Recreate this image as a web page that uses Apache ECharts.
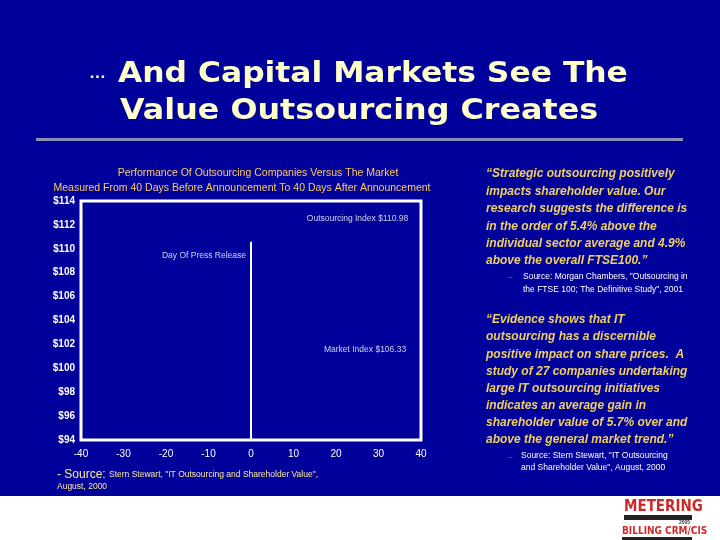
<!DOCTYPE html>
<html><head><meta charset="utf-8">
<script src="https://cdn.jsdelivr.net/npm/echarts@6/dist/echarts.min.js"></script>
<style>html,body{margin:0;padding:0;background:#00009a}#c{width:720px;height:540px}</style>
</head><body><div id="c"></div>
<script>
// ---- data ----
const xTicks = [-40, -30, -20, -10, 0, 10, 20, 30, 40];
const yTicks = [94, 96, 98, 100, 102, 104, 106, 108, 110, 112, 114];
const pressReleaseDay = 0;
const annotationLabels = ['Outsourcing Index $110.98', 'Market Index $106.33'];
const annotationDays = [37, 36.5];
const annotationValues = [112.5, 101.6];
const pressLabel = 'Day Of Press Release';
const pressLineTop = 110.6;
const pressLabelValue = 109.4;

const chartTitle = 'Performance Of Outsourcing Companies Versus The Market';
const chartSubtitle = 'Measured From 40 Days Before Announcement To 40 Days After Announcement';
const slideTitle1 = 'And Capital Markets See The';
const slideTitle2 = 'Value Outsourcing Creates';
const quote1 = ['\u201cStrategic outsourcing positively','impacts shareholder value. Our','research suggests the difference is','in the order of 5.4% above the','individual sector average and 4.9%','above the overall FTSE100.\u201d'];
const source1 = ['Source: Morgan Chambers, "Outsourcing in','the FTSE 100; The Definitive Study", 2001'];
const quote2 = ['\u201cEvidence shows that IT','outsourcing has a discernible','positive impact on share prices.  A','study of 27 companies undertaking','large IT outsourcing initiatives','indicates an average gain in','shareholder value of 5.7% over and','above the general market trend.\u201d'];
const source2 = ['Source: Stern Stewart, "IT Outsourcing','and Shareholder Value", August, 2000'];

const chart = echarts.init(document.getElementById('c'), null, {renderer:'canvas'});
const BG = '#00009a', CREAM = '#ffffcc', GOLD = '#f0d060', ORANGE = '#ffcc66';

const graphics = [];
// white strip at bottom
graphics.push({type:'rect', shape:{x:0,y:496,width:720,height:44}, style:{fill:'#ffffff'}, z:0});
// title
graphics.push({type:'text', style:{x:89, y:73, text:'\u2026', fill:CREAM, font:'bold 17px "Liberation Sans", Arial', textVerticalAlign:'middle'}});
graphics.push({type:'text', x:118, y:75, scaleX:1.12, style:{x:0, y:0, text:slideTitle1, fill:CREAM, font:'bold 28px "DejaVu Sans"', textVerticalAlign:'middle'}});
graphics.push({type:'text', x:120, y:112, scaleX:1.135, style:{x:0, y:0, text:slideTitle2, fill:CREAM, font:'bold 28px "DejaVu Sans"', textVerticalAlign:'middle'}});
graphics.push({type:'rect', shape:{x:36,y:138,width:647,height:3}, style:{fill:'#8c8cb8'}});
// chart titles
graphics.push({type:'text', style:{x:258, y:173, text:chartTitle, fill:ORANGE, font:'10.5px "Liberation Sans", Arial', textAlign:'center', textVerticalAlign:'middle'}});
graphics.push({type:'text', style:{x:242, y:188, text:chartSubtitle, fill:ORANGE, font:'10.5px "Liberation Sans", Arial', textAlign:'center', textVerticalAlign:'middle'}});
// chart source
graphics.push({type:'text', style:{x:57, y:475, rich:{a:{fontSize:12, fill:'#ffe8a0', fontFamily:'Liberation Sans'}, b:{fontSize:8.5, fill:'#ffe8a0', fontFamily:'Liberation Sans'}}, text:'{a|- Source: }{b|Stern Stewart, "IT Outsourcing and Shareholder Value",}', textVerticalAlign:'middle'}});
graphics.push({type:'text', style:{x:57, y:487, text:'August, 2000', fill:'#ffe8a0', font:'8.5px "Liberation Sans"', textVerticalAlign:'middle'}});
// quotes
quote1.forEach((t,i)=>graphics.push({type:'text', style:{x:486, y:174+i*17.4, text:t, fill:GOLD, font:'italic bold 12px "Liberation Sans", Arial', textVerticalAlign:'middle'}}));
graphics.push({type:'text', style:{x:508, y:277, text:'\u2013', fill:'#8080d0', font:'8px "Liberation Sans"', textVerticalAlign:'middle'}});
source1.forEach((t,i)=>graphics.push({type:'text', style:{x:523, y:277+i*13, text:t, fill:'#ffffff', font:'8.5px "Liberation Sans"', textVerticalAlign:'middle'}}));
quote2.forEach((t,i)=>graphics.push({type:'text', style:{x:486, y:320+i*17.15, text:t, fill:GOLD, font:'italic bold 12px "Liberation Sans", Arial', textVerticalAlign:'middle'}}));
graphics.push({type:'text', style:{x:508, y:457, text:'\u2013', fill:'#8080d0', font:'8px "Liberation Sans"', textVerticalAlign:'middle'}});
source2.forEach((t,i)=>graphics.push({type:'text', style:{x:521, y:456+i*12, text:t, fill:'#ffffff', font:'8.5px "Liberation Sans"', textVerticalAlign:'middle'}}));
// logo
graphics.push({type:'text', style:{x:624, y:507, text:'METERING', fill:'#cc2a2a', font:'bold 15px "DejaVu Sans Condensed"', textVerticalAlign:'middle'}});
graphics.push({type:'rect', shape:{x:624,y:515,width:68,height:5}, style:{fill:'#222222'}});
graphics.push({type:'text', style:{x:690, y:523, text:'2005', fill:'#333333', font:'bold 5px "Liberation Sans"', textAlign:'right', textVerticalAlign:'middle'}});
graphics.push({type:'text', style:{x:622, y:531, text:'BILLING CRM/CIS', fill:'#cc2a2a', font:'bold 10px "DejaVu Sans Condensed"', textVerticalAlign:'middle'}});
graphics.push({type:'rect', shape:{x:622,y:537,width:70,height:3}, style:{fill:'#222222'}});

chart.setOption({
  backgroundColor: BG,
  animation: false,
  textStyle: {fontFamily: '"Liberation Sans", Arial'},
  grid: {left: 81, right: 299, top: 201, bottom: 100, show: true, borderColor: '#ffffff', borderWidth: 3, backgroundColor: BG, containLabel: false},
  xAxis: {type:'value', min: xTicks[0], max: xTicks[xTicks.length-1], interval: 10,
    axisLine:{show:false}, axisTick:{show:false}, splitLine:{show:false},
    axisLabel:{color:'#ffffff', fontSize:10, margin:9}},
  yAxis: {type:'value', min: yTicks[0], max: yTicks[yTicks.length-1], interval: 2,
    axisLine:{show:false}, axisTick:{show:false}, splitLine:{show:false},
    axisLabel:{color:'#ffffff', fontSize:10, fontWeight:'bold', margin:6, formatter: v => '$' + v}},
  series: [
    {type:'scatter', symbolSize: 0, silent: true,
     data: annotationLabels.map((n,i)=>({name:n, value:[annotationDays[i], annotationValues[i]]})),
     label:{show:true, position:'left', distance:0, color:'#ffffff', fontSize:8.5, formatter: p => p.name},
     markLine:{silent:true, symbol:'none', label:{show:false},
       lineStyle:{color:'#ffffff', width:2, type:'solid'},
       data:[[{coord:[pressReleaseDay, yTicks[0]]},{coord:[pressReleaseDay, pressLineTop]}]]}
    },
    {type:'scatter', symbolSize: 0, silent: true,
     data: [{name: pressLabel, value:[pressReleaseDay, pressLabelValue]}],
     label:{show:true, position:'left', distance:5, color:'#ffffff', fontSize:8.5, formatter: p => p.name}}
  ],
  graphic: graphics
});
</script></body></html>
